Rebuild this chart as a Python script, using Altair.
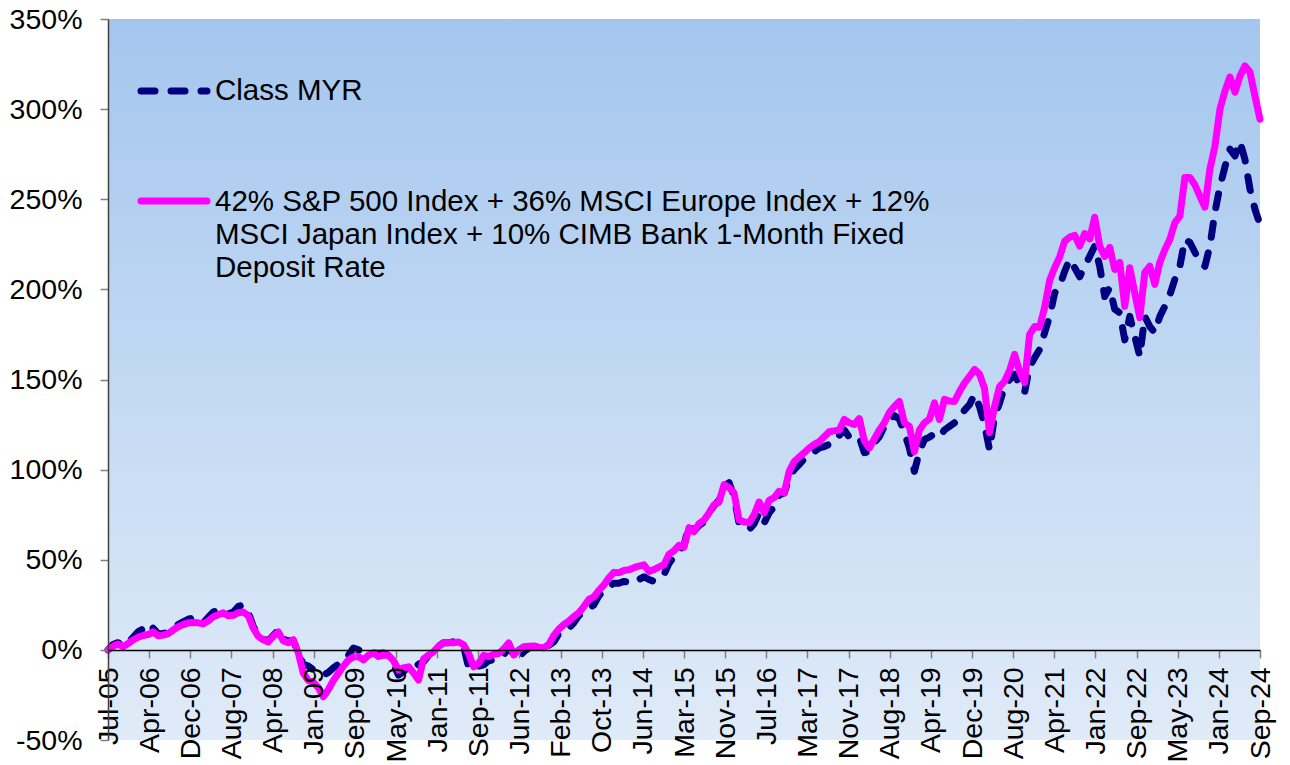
import altair as alt
import pandas as pd

# ---------------- data ----------------
x_labels = ["Jul-05", "Apr-06", "Dec-06", "Aug-07", "Apr-08", "Jan-09", "Sep-09", "May-10",
            "Jan-11", "Sep-11", "Jun-12", "Feb-13", "Oct-13", "Jun-14", "Mar-15", "Nov-15",
            "Jul-16", "Mar-17", "Nov-17", "Aug-18", "Apr-19", "Dec-19", "Aug-20", "Apr-21",
            "Jan-22", "Sep-22", "May-23", "Jan-24", "Sep-24"]

legend_lines = ["Class MYR",
                "42% S&P 500 Index + 36% MSCI Europe Index + 12%",
                "MSCI Japan Index + 10% CIMB Bank 1-Month Fixed",
                "Deposit Rate"]

# monthly cumulative return (%), Jul-05 .. Sep-24
class_myr = [
    0, 3, 4, 2, 4, 7, 10, 11.7, 9, 12, 9, 9,
    10, 12, 14, 15.5, 17, 17.8, 16, 15, 18, 21, 22, 22,
    20, 21, 24, 25, 21, 13, 8, 6, 5, 8, 11, 6,
    5, 5, -2, -8, -9, -11, -12, -14, -12.5, -10, -8, -6.7,
    -3, 1, 0, -1, -2, -1.7, -2, -1.7, -3, -8, -14, -12,
    -10, -10, -8, -6.7, -3, 1, 2, 4, 4, 4.5, 4, 2,
    -10, -11, -9, -8.3, -6, -5.5, -5, -3, 2, -3.5, -4.4, -1,
    1, 1.5, 1, 0.5, 2.5, 4.4, 9, 11, 12, 15, 19, 21,
    23, 25, 30, 33, 35, 37, 37, 38, 37.5, 37, 39, 40.6,
    39, 38, 40, 41.7, 48, 51.7, 55, 58, 69.4, 66, 69, 71,
    76, 80, 83, 91, 92.8, 85, 70, 68, 66.7, 70, 76, 70.5,
    76, 79.4, 86, 87, 95.6, 100, 102.8, 106, 108.3, 110, 112, 112.8,
    114, 115, 119, 122, 118, 117.8, 118, 109.4, 110, 115, 118.3, 124,
    127.8, 130, 128, 120.5, 112, 99, 110, 116.7, 118, 120, 118.3, 122,
    124, 126, 127.8, 133, 136, 141.7, 135, 125, 111, 129.4, 137, 146,
    150, 152.8, 147, 142.8, 157.2, 162, 166.7, 176, 185, 198, 202, 210,
    216.7, 212, 207, 212.8, 218.3, 224, 212.8, 196, 201, 189, 187, 172,
    185, 174, 162.8, 185, 179.4, 176, 185, 190.6, 197, 205.6, 212.8, 227.8,
    226, 220.6, 215, 212.8, 224, 242.8, 257, 268, 277.8, 274, 282, 272,
    255.6, 244.4, 236,
]

benchmark = [
    0, 2, 3.3, 1.7, 3.5, 5.5, 7, 8, 8.5, 10, 7.8, 8.2,
    9, 11, 12.8, 14, 15, 15.2, 15, 14.4, 16, 18.3, 19.5, 20.6,
    18.9, 19.2, 20.6, 21, 19, 12, 7.5, 5.6, 4.4, 7.5, 10, 5,
    3.9, 5.6, -1.7, -13, -17, -18, -21, -26, -22, -17, -13, -9,
    -5.6, -4, -3.7, -5.6, -3, -1.7, -3.7, -2.8, -3, -6, -11, -10,
    -9.4, -12.8, -16.7, -5, -3, -1, 2, 3.9, 3.9, 4, 4.4, 2.8,
    -2, -9.4, -7.5, -3, -3.7, -2.5, -2, 0.5, 3.9, -2.8, 0, 1.7,
    2, 2.2, 1.5, 1.1, 3, 8, 11.5, 14, 16, 18.5, 20.6, 24,
    28, 29.4, 33, 36, 40, 43, 42.8, 44, 44.5, 45.6, 46.5, 47.2,
    43.5, 44.5, 46, 47.2, 53, 55, 58, 57, 67.8, 65.6, 70, 72,
    76, 80.5, 82, 91.7, 90, 87, 72, 71, 70.5, 75, 82, 76,
    83, 84.4, 88, 87, 99, 104.5, 107, 109.4, 112, 114, 115.5, 118.3,
    121, 121.5, 122, 127.8, 126, 125, 128.3, 116, 112, 117, 122, 126,
    131.7, 135, 137.8, 126, 124, 110, 122, 126, 128, 137, 127.8, 139,
    138, 137.8, 143.3, 148, 151.7, 155.6, 153, 145, 120.5, 135, 146, 149,
    155, 164, 154.4, 148.3, 175, 179.4, 179, 190, 205, 212, 218, 226.7,
    229, 230, 224, 231, 228, 240, 224, 218.3, 223.3, 211, 215, 190.6,
    212, 198, 184.4, 209.4, 212.8, 202.8, 215, 222, 227.8, 237, 240.6, 262,
    262, 258, 251.7, 245.6, 266.7, 279.4, 300, 310, 317.8, 309.4, 318.3, 324,
    320.6, 307, 294.4,
]

y_ticks = [-50, 0, 50, 100, 150, 200, 250, 300, 350]

# ---------------- chart ----------------
N = len(benchmark)
last = N - 1
df = pd.DataFrame({"m": list(range(N)), "fund": class_myr, "bm": benchmark})

W, H = 1152, 721
FONT = "Liberation Sans"
y_min, y_max = -50, 350
zero_offset = -H * (0 - y_min) / (y_max - y_min)

n_int = len(x_labels) - 1
x_tick_vals = [k * last / n_int for k in range(len(x_labels))]
label_js = "[" + ",".join("'%s'" % s for s in x_labels) + "]"
x_label_expr = label_js + "[round(datum.value * %d / %d)]" % (n_int, last)

x_scale = alt.Scale(domain=[0, last], nice=False, zero=False)
y_scale = alt.Scale(domain=[y_min, y_max], nice=False, zero=False)

x_enc = alt.X(
    "m:Q", scale=x_scale,
    axis=alt.Axis(
        title=None, values=x_tick_vals, labelExpr=x_label_expr, offset=zero_offset,
        labelAngle=270, labelAlign="right", labelBaseline="middle", labelPadding=9,
        labelFontSize=28.5, labelFont=FONT, labelColor="black", labelFlush=False,
        labelOverlap=False, tickSize=8, tickColor="#808080", tickWidth=1.5,
        domainColor="black", domainWidth=1.5, grid=False, zindex=1,
    ),
)

def y_enc(field):
    return alt.Y(
        field + ":Q", scale=y_scale,
        axis=alt.Axis(
            title=None, values=y_ticks, labelExpr="datum.value + '%'",
            labelFontSize=28.5, labelFont=FONT, labelColor="black", labelFlush=False,
            labelPadding=18, tickSize=8, tickColor="#808080", tickWidth=1.5,
            domainColor="#404040", domainWidth=1.5, grid=False, zindex=1,
        ),
    )

one = pd.DataFrame({"a": [0]})

bg = alt.Chart(one).mark_rect(
    color=alt.Gradient(
        gradient="linear", x1=0, x2=0, y1=0, y2=1,
        stops=[alt.GradientStop(offset=0, color="#a4c6ee"),
               alt.GradientStop(offset=1, color="#e0ebf8")],
    )
).encode(x=alt.value(0), x2=alt.value(W), y=alt.value(0), y2=alt.value(H))

fund_line = alt.Chart(df).mark_line(
    color="#000080", strokeWidth=7, strokeDash=[14, 16], strokeCap="round", strokeJoin="round"
).encode(x=x_enc, y=y_enc("fund"))

bm_line = alt.Chart(df).mark_line(
    color="#ff00ff", strokeWidth=7, strokeCap="round", strokeJoin="round"
).encode(x=x_enc, y=y_enc("bm"))

leg_fund = alt.Chart(one).mark_rule(
    color="#000080", strokeWidth=7, strokeDash=[14, 16], strokeCap="round"
).encode(x=alt.value(33), x2=alt.value(99), y=alt.value(72))

leg_bm = alt.Chart(one).mark_rule(
    color="#ff00ff", strokeWidth=7, strokeCap="round"
).encode(x=alt.value(33), x2=alt.value(99), y=alt.value(182))

text_y = [72, 183, 216, 249]
leg_texts = [
    alt.Chart(one).mark_text(
        align="left", baseline="middle", fontSize=29.5, font=FONT, color="black"
    ).encode(x=alt.value(107), y=alt.value(ty), text=alt.value(t))
    for t, ty in zip(legend_lines, text_y)
]

chart = alt.layer(bg, fund_line, bm_line, leg_fund, leg_bm, *leg_texts).properties(
    width=W, height=H,
    padding={"left": 108, "top": 19, "right": 30, "bottom": 25},
    autosize=alt.AutoSizeParams(type="none"),
    background="white",
).configure_view(stroke=None)

chart.save("out.html", embed_options={"renderer": "svg", "actions": False})
